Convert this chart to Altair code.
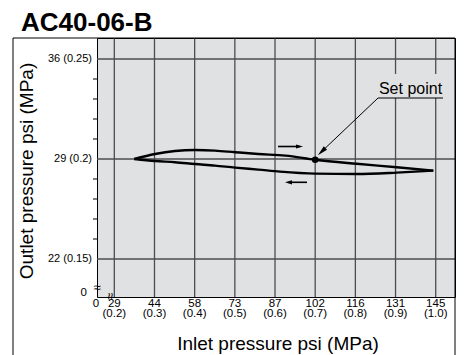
import altair as alt
import pandas as pd

# ---------------- data ----------------
chart_title = "AC40-06-B"
x_title = "Inlet pressure  psi (MPa)"
y_title = "Outlet pressure  psi (MPa)"
setpoint_label = "Set point"

x_ticks_mpa = [0.2, 0.3, 0.4, 0.5, 0.6, 0.7, 0.8, 0.9, 1.0]
x_ticks_psi = ["29", "44", "58", "73", "87", "102", "116", "131", "145"]
x_ticks_sub = ["(0.2)", "(0.3)", "(0.4)", "(0.5)", "(0.6)", "(0.7)", "(0.8)", "(0.9)", "(1.0)"]
y_ticks_mpa = [0.15, 0.2, 0.25]
y_ticks_text = ["22 (0.15)", "29 (0.2)", "36 (0.25)"]
y_minor_mpa = [0.16, 0.17, 0.18, 0.19, 0.21, 0.22, 0.23, 0.24]

# rising inlet pressure (upper branch)
rising_x = [0.2498, 0.3013, 0.3511, 0.4009, 0.4507, 0.5004, 0.5584, 0.6258, 0.7005, 0.8033, 0.9029, 0.9940]
rising_y = [0.2000, 0.2025, 0.2040, 0.2045, 0.2042, 0.2034, 0.2025, 0.2017, 0.1996, 0.1976, 0.1959, 0.1942]
# falling inlet pressure (lower branch)
falling_x = [0.9940, 0.9030, 0.8030, 0.7000, 0.6125, 0.5584, 0.5004, 0.4507, 0.4009, 0.3511, 0.3013, 0.2498]
falling_y = [0.1942, 0.1932, 0.1925, 0.1927, 0.1937, 0.1947, 0.1957, 0.1967, 0.1975, 0.1984, 0.1990, 0.2000]

set_point_x = [0.7]
set_point_y = [0.1996]

x_domain = [0.1569, 1.048]
y_domain = [0.131, 0.2605]

# annotation anchors (data units)
label_box_x = [0.851, 1.028]
label_box_y = [0.2305, 0.2425]
label_text_xy = [0.9373, 0.2325]
underline_x = [0.8564, 1.0182]
underline_y = 0.2305
leader_from = [0.8564, 0.2305]
leader_head = [0.716, 0.2037]
arrow_up = {"x": [0.6075, 0.661], "y": 0.20625}
arrow_down = {"x": [0.6336, 0.6796], "y": 0.18835}

BG = "#e0e1e3"
GRID = "#4d4d4d"
FONT = "Liberation Sans"

# ---------------- scales ----------------
xs = alt.Scale(domain=x_domain, nice=False, zero=False)
ys = alt.Scale(domain=y_domain, nice=False, zero=False)


def X(f="x"):
    return alt.X(f"{f}:Q", scale=xs, axis=None)


def Y(f="y"):
    return alt.Y(f"{f}:Q", scale=ys, axis=None)


# ---------------- layers ----------------
xdf = pd.DataFrame({"x": x_ticks_mpa,
                    "lab": [[p, s] for p, s in zip(x_ticks_psi, x_ticks_sub)]})
ydf = pd.DataFrame({"y": y_ticks_mpa, "t": y_ticks_text})

vgrid = alt.Chart(xdf).mark_rule(color=GRID, strokeWidth=1.3).encode(x=X())
hgrid = alt.Chart(ydf).mark_rule(color=GRID, strokeWidth=1.3).encode(y=Y())
minor = alt.Chart(pd.DataFrame({"y": y_minor_mpa})).mark_rule(color="black", strokeWidth=1).encode(
    y=Y(), x=alt.value(-4), x2=alt.value(0))

xlab = alt.Chart(xdf).mark_text(font=FONT, fontSize=11.5, align="center", baseline="alphabetic",
                                lineHeight=10.5, color="black").encode(
    x=X(), y=alt.value(268.5), text="lab")
ylab = alt.Chart(ydf).mark_text(font=FONT, fontSize=11, align="right", baseline="middle",
                                color="black").encode(y=Y(), x=alt.value(-5), text="t:N")

curve_df = pd.concat([
    pd.DataFrame({"x": rising_x, "y": rising_y, "branch": "rise"}),
    pd.DataFrame({"x": falling_x, "y": falling_y, "branch": "fall"}),
])
curve = alt.Chart(curve_df).mark_line(color="black", strokeWidth=2.4, interpolate="monotone").encode(
    x=X(), y=Y(), detail="branch:N")

dot = alt.Chart(pd.DataFrame({"x": set_point_x, "y": set_point_y})).mark_circle(
    size=44, color="black", opacity=1).encode(x=X(), y=Y())

label_bg = alt.Chart(pd.DataFrame({"x": [label_box_x[0]], "x2": [label_box_x[1]],
                                   "y": [label_box_y[0]], "y2": [label_box_y[1]]})).mark_rect(color=BG).encode(
    x=X(), x2="x2:Q", y=Y(), y2="y2:Q")
label_txt = alt.Chart(pd.DataFrame({"x": [label_text_xy[0]], "y": [label_text_xy[1]], "t": [setpoint_label]})).mark_text(
    font=FONT, fontSize=16, align="center", baseline="alphabetic", color="black").encode(
    x=X(), y=Y(), text="t:N")
underline = alt.Chart(pd.DataFrame({"x": [underline_x[0]], "x2": [underline_x[1]], "y": [underline_y]})).mark_rule(
    color="black", strokeWidth=1).encode(x=X(), x2="x2:Q", y=Y())
leader = alt.Chart(pd.DataFrame({"x": [leader_from[0]], "x2": [leader_head[0]],
                                 "y": [leader_from[1]], "y2": [leader_head[1]]})).mark_rule(
    color="black", strokeWidth=1).encode(x=X(), x2="x2:Q", y=Y(), y2="y2:Q")
leader_tip = alt.Chart(pd.DataFrame({"x": [leader_head[0]], "y": [leader_head[1]]})).mark_point(
    shape="M0,-1L0.45,1L-0.45,1Z", filled=True, size=110, angle=226, color="black", opacity=1).encode(
    x=X(), y=Y())

shafts = alt.Chart(pd.DataFrame({"x": [arrow_up["x"][0], arrow_down["x"][0]],
                                 "x2": [arrow_up["x"][1], arrow_down["x"][1]],
                                 "y": [arrow_up["y"], arrow_down["y"]]})).mark_rule(
    color="black", strokeWidth=1.6).encode(x=X(), x2="x2:Q", y=Y())
head_right = alt.Chart(pd.DataFrame({"x": [arrow_up["x"][1]], "y": [arrow_up["y"]]})).mark_point(
    shape="M1,0L-1,-0.6L-1,0.6Z", filled=True, size=49, color="black", opacity=1).encode(x=X(), y=Y())
head_left = alt.Chart(pd.DataFrame({"x": [arrow_down["x"][0]], "y": [arrow_down["y"]]})).mark_point(
    shape="M-1,0L1,-0.6L1,0.6Z", filled=True, size=49, color="black", opacity=1).encode(x=X(), y=Y())

one = pd.DataFrame({"t": [chart_title]})
title = alt.Chart(one).mark_text(font=FONT, fontSize=26, fontWeight="bold", align="left",
                                 baseline="alphabetic", color="black").encode(
    x=alt.value(-76), y=alt.value(-7), text="t:N")
xt = alt.Chart(pd.DataFrame({"t": [x_title]})).mark_text(font=FONT, fontSize=19, align="center",
                                                         baseline="alphabetic", color="black").encode(
    x=alt.value(181), y=alt.value(312), text="t:N")
yt = alt.Chart(pd.DataFrame({"t": [y_title]})).mark_text(font=FONT, fontSize=19, align="center",
                                                         baseline="middle", angle=270, color="black").encode(
    x=alt.value(-70), y=alt.value(133), text="t:N")
zero_y = alt.Chart(pd.DataFrame({"t": ["0"]})).mark_text(font=FONT, fontSize=11.5, align="right",
                                                          baseline="middle", color="black").encode(
    x=alt.value(-10), y=alt.value(255), text="t:N")
zero_x = alt.Chart(pd.DataFrame({"t": ["0"]})).mark_text(font=FONT, fontSize=11.5, align="center",
                                                          baseline="alphabetic", color="black").encode(
    x=alt.value(-1), y=alt.value(268.5), text="t:N")
brk_y = alt.Chart(pd.DataFrame({"t": ["\u2248"]})).mark_text(font=FONT, fontSize=13, align="center",
                                                              baseline="middle", color="black").encode(
    x=alt.value(0), y=alt.value(250), text="t:N")
brk_x = alt.Chart(pd.DataFrame({"t": ["\u2248"]})).mark_text(font=FONT, fontSize=13, align="center",
                                                              baseline="middle", angle=90, color="black").encode(
    x=alt.value(13), y=alt.value(258), text="t:N")

frame_left = alt.Chart(one).mark_rule(color="black", strokeWidth=1).encode(
    x=alt.value(-84), y=alt.value(0), y2=alt.value(317))
frame_top = alt.Chart(one).mark_rule(color="black", strokeWidth=1).encode(
    x=alt.value(-84), x2=alt.value(358), y=alt.value(0))
frame_right = alt.Chart(one).mark_rule(color="black", strokeWidth=1).encode(
    x=alt.value(358), y=alt.value(0), y2=alt.value(317))

chart = alt.layer(
    vgrid, hgrid, minor, xlab, ylab, curve, dot, label_bg, label_txt, underline, leader,
    leader_tip, shafts, head_right, head_left, title, xt, yt, zero_y, zero_x, brk_y, brk_x,
    frame_left, frame_top, frame_right,
).properties(
    width=358, height=259,
    autosize=alt.AutoSizeParams(type="none"),
    padding={"left": 89, "top": 30, "right": 1, "bottom": 58},
    background="white",
).configure_view(fill=BG, stroke="black", strokeWidth=1)

chart.save("out.html", embed_options={"renderer": "svg", "actions": False})
